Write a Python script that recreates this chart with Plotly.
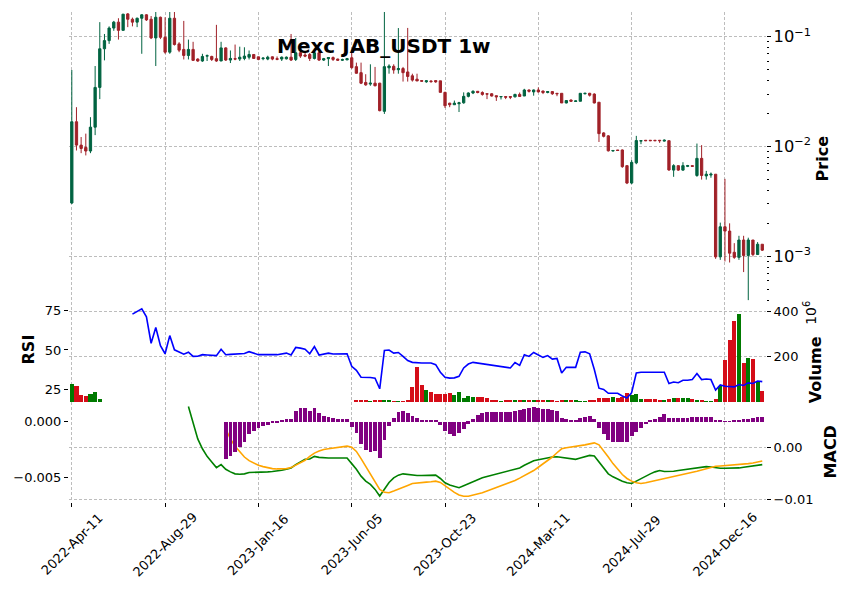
import plotly.graph_objects as go
import pandas as pd

# ---------------- data (weekly candles, index 0 = 2022-04-11) ----------------
opens = [
    0.00306, 0.0168, 0.0103, 0.0098, 0.0091, 0.0150, 0.0345, 0.0775, 0.092, 0.1197,
    0.1355, 0.114, 0.161, 0.144, 0.1355, 0.147, 0.158, 0.144, 0.0973, 0.150,
    0.0986, 0.0722, 0.147, 0.0859, 0.0765, 0.0674, 0.0765, 0.0625, 0.060, 0.0665,
    0.066, 0.063, 0.060, 0.079, 0.0612, 0.063, 0.0625, 0.0633, 0.065, 0.0688,
    0.0655, 0.063, 0.0625, 0.0655, 0.063, 0.0625, 0.0628, 0.065, 0.062, 0.0713,
    0.068, 0.0688, 0.0633, 0.0713, 0.0612, 0.063, 0.0645, 0.0625, 0.061, 0.0615,
    0.0642, 0.0533, 0.047, 0.0383, 0.037, 0.0377, 0.0377, 0.0209, 0.052, 0.0537,
    0.050, 0.0512, 0.0477, 0.044, 0.041, 0.0398, 0.0388, 0.0395, 0.0398, 0.0396,
    0.0311, 0.0248, 0.0240, 0.0245, 0.025, 0.0286, 0.0307, 0.0318, 0.031, 0.0302,
    0.0302, 0.029, 0.0283, 0.0285, 0.0285, 0.0283, 0.0298, 0.0288, 0.0327, 0.0314,
    0.0327, 0.032, 0.0310, 0.0316, 0.0305, 0.0305, 0.0249, 0.0265, 0.0257, 0.0258,
    0.0302, 0.0305, 0.030, 0.0253, 0.0133, 0.0125, 0.0091, 0.0093, 0.0093, 0.0067,
    0.00465, 0.0071, 0.0112, 0.0114, 0.0114, 0.0114, 0.0114, 0.0112, 0.0113, 0.0061,
    0.0067, 0.0061, 0.0066, 0.0067, 0.00545, 0.0078, 0.0054, 0.0055, 0.0056, 0.00099,
    0.00186, 0.0017, 0.00109, 0.00098, 0.00141, 0.00102, 0.00141, 0.00104, 0.00129,
]
highs = [
    0.0497, 0.0228, 0.0122, 0.0131, 0.0185, 0.054, 0.1355, 0.1057, 0.124, 0.139,
    0.147, 0.161, 0.164, 0.149, 0.149, 0.160, 0.160, 0.154, 0.172, 0.152,
    0.150, 0.172, 0.175, 0.089, 0.139, 0.094, 0.0897, 0.0635, 0.0698, 0.0688,
    0.067, 0.128, 0.0897, 0.080, 0.0748, 0.0847, 0.081, 0.080, 0.0748, 0.0688,
    0.0655, 0.065, 0.067, 0.066, 0.066, 0.066, 0.066, 0.1057, 0.0973, 0.074,
    0.071, 0.071, 0.074, 0.074, 0.064, 0.065, 0.066, 0.063, 0.063, 0.064,
    0.074, 0.058, 0.058, 0.0455, 0.056, 0.053, 0.038, 0.171, 0.056, 0.056,
    0.1197, 0.053, 0.12, 0.046, 0.046, 0.040, 0.040, 0.040, 0.040, 0.0396,
    0.0315, 0.0250, 0.0262, 0.0255, 0.0311, 0.0311, 0.0325, 0.0320, 0.0318, 0.0302,
    0.0306, 0.029, 0.0287, 0.0287, 0.0288, 0.0302, 0.0310, 0.0335, 0.0330, 0.0330,
    0.0345, 0.0322, 0.0318, 0.032, 0.0305, 0.0305, 0.0265, 0.0268, 0.0262, 0.0305,
    0.0308, 0.0308, 0.0305, 0.0253, 0.0135, 0.0127, 0.0093, 0.0093, 0.0094, 0.0067,
    0.00753, 0.0125, 0.0113, 0.0114, 0.0114, 0.0114, 0.0114, 0.0116, 0.0113, 0.0069,
    0.0067, 0.0072, 0.0068, 0.0067, 0.01064, 0.0103, 0.0060, 0.0058, 0.0056, 0.00203,
    0.00508, 0.0020, 0.00132, 0.00154, 0.00154, 0.00148, 0.00141, 0.00135, 0.00129,
]
lows = [
    0.0030, 0.0092, 0.0087, 0.0083, 0.0087, 0.0127, 0.027, 0.0608, 0.0859, 0.113,
    0.094, 0.114, 0.122, 0.124, 0.122, 0.0698, 0.139, 0.095, 0.054, 0.095,
    0.0698, 0.0698, 0.083, 0.0722, 0.062, 0.062, 0.060, 0.059, 0.059, 0.060,
    0.060, 0.059, 0.060, 0.060, 0.0575, 0.061, 0.060, 0.061, 0.062, 0.063,
    0.061, 0.061, 0.061, 0.061, 0.061, 0.060, 0.062, 0.060, 0.060, 0.064,
    0.065, 0.060, 0.062, 0.060, 0.060, 0.054, 0.060, 0.060, 0.060, 0.061,
    0.051, 0.046, 0.037, 0.0357, 0.0357, 0.0353, 0.0209, 0.0198, 0.046, 0.046,
    0.046, 0.039, 0.039, 0.039, 0.0395, 0.039, 0.038, 0.038, 0.038, 0.031,
    0.0224, 0.0228, 0.0240, 0.0206, 0.0245, 0.028, 0.030, 0.0305, 0.029, 0.027,
    0.0285, 0.026, 0.0268, 0.027, 0.027, 0.028, 0.0285, 0.0288, 0.031, 0.029,
    0.031, 0.030, 0.0305, 0.0295, 0.0287, 0.0249, 0.0247, 0.0255, 0.0255, 0.0258,
    0.0298, 0.0285, 0.0247, 0.0110, 0.0121, 0.0090, 0.0090, 0.0091, 0.0064, 0.00455,
    0.00455, 0.0069, 0.0105, 0.0112, 0.0112, 0.0112, 0.0108, 0.0111, 0.0060, 0.0053,
    0.0060, 0.0060, 0.0065, 0.0066, 0.0053, 0.0050, 0.0050, 0.0052, 0.00095, 0.00093,
    0.00090, 0.00088, 0.00095, 0.00093, 0.00072, 0.00040, 0.00100, 0.00103, 0.00112,
]
closes = [
    0.0168, 0.0103, 0.0096, 0.0091, 0.0150, 0.0345, 0.0775, 0.092, 0.1197, 0.1355,
    0.114, 0.160, 0.144, 0.1355, 0.147, 0.158, 0.142, 0.0973, 0.150, 0.0986,
    0.0722, 0.147, 0.0847, 0.0753, 0.0674, 0.0765, 0.0608, 0.060, 0.066, 0.067,
    0.062, 0.060, 0.079, 0.0612, 0.0633, 0.0625, 0.065, 0.0665, 0.0688, 0.0633,
    0.062, 0.0637, 0.065, 0.0625, 0.0622, 0.065, 0.065, 0.0612, 0.0713, 0.0665,
    0.0665, 0.0633, 0.0713, 0.0612, 0.063, 0.0645, 0.062, 0.061, 0.0618, 0.063,
    0.0522, 0.0464, 0.0377, 0.0364, 0.0377, 0.0357, 0.0212, 0.0533, 0.054, 0.0497,
    0.0512, 0.047, 0.0434, 0.0402, 0.0395, 0.0393, 0.0396, 0.0390, 0.0388, 0.0311,
    0.0235, 0.0240, 0.0248, 0.025, 0.0286, 0.0307, 0.0318, 0.0310, 0.0298, 0.030,
    0.0288, 0.0283, 0.0285, 0.0281, 0.0281, 0.0298, 0.0285, 0.0327, 0.0318, 0.0327,
    0.0314, 0.0310, 0.0316, 0.0302, 0.0302, 0.0249, 0.0262, 0.0258, 0.026, 0.0305,
    0.0305, 0.0293, 0.0249, 0.0131, 0.01238, 0.00914, 0.0092, 0.0092, 0.00656, 0.00465,
    0.00718, 0.01133, 0.0113, 0.0113, 0.0113, 0.0113, 0.0113, 0.0114, 0.00612, 0.0067,
    0.0061, 0.0067, 0.0067, 0.0066, 0.0078, 0.00545, 0.0056, 0.0056, 0.00099, 0.00186,
    0.0017, 0.00107, 0.00098, 0.00141, 0.00102, 0.00141, 0.00104, 0.00129, 0.00114,
]
# volume in millions
volume_m = [
    77, 72, 30, 26, 35, 43, 12, 0, 0, 0,
    0, 0, 0, 0, 0, 0, 0, 0, 0, 0,
    0, 0, 0, 0, 0, 0, 0, 0, 0, 0,
    0, 0, 0, 0, 0, 0, 0, 0, 0, 0,
    0, 0, 0, 0, 0, 0, 0, 0, 0, 0,
    0, 0, 0, 0, 0, 0, 0, 0, 0, 0,
    0, 7, 7, 7, 4, 7, 7, 7, 7, 3,
    3, 3, 8, 65, 152, 74, 52, 43, 35, 35,
    36, 39, 30, 43, 17, 26, 22, 22, 22, 17,
    9, 9, 4, 8, 8, 10, 10, 8, 8, 5,
    6, 5, 5, 6, 4, 5, 8, 5, 5, 4,
    3, 5, 8, 18, 19, 19, 20, 18, 20, 38,
    32, 35, 12, 12, 14, 12, 10, 10, 14, 16,
    16, 16, 16, 14, 10, 8, 1, 2, 14, 72,
    186, 273, 357, 388, 171, 193, 188, 91, 48,
]
rsi = [
    None, None, None, None, None, None, None, None, None, None,
    None, None, None, 72.9, 74.6, 76.3, 71.2, 54.3, 64.4, 52.7,
    47.6, 59.2, 50.1, 48.6, 47.3, 48.6, 45.9, 46.0, 47.0, 46.8,
    46.6, 46.4, 50.5, 47.0, 47.2, 47.4, 47.6, 47.8, 48.9, 47.8,
    47.0, 47.0, 47.2, 47.0, 47.0, 47.4, 48.0, 46.8, 51.6, 51.2,
    50.5, 47.6, 52.2, 46.8, 47.6, 48.0, 47.4, 47.4, 47.6, 47.6,
    39.6, 37.0, 32.6, 32.6, 32.4, 32.0, 25.2, 49.7, 50.0, 48.0,
    48.4, 45.9, 43.2, 42.1, 41.7, 41.7, 41.7, 41.7, 40.6, 35.8,
    32.6, 32.0, 32.2, 33.2, 38.5, 41.0, 42.1, 41.7, 41.3, 40.9,
    40.5, 40.0, 39.6, 39.2, 38.5, 42.0, 40.2, 47.0, 45.9, 48.4,
    47.0, 45.3, 46.4, 44.2, 44.6, 35.3, 38.9, 38.9, 38.9, 48.6,
    48.8, 47.6, 37.5, 25.6, 24.8, 22.3, 22.3, 22.3, 20.6, 19.3,
    22.7, 35.3, 35.8, 35.8, 35.8, 35.8, 35.8, 35.8, 28.6, 29.5,
    29.1, 30.7, 30.7, 31.1, 34.9, 31.1, 31.5, 31.1, 24.4, 27.7,
    26.8, 26.4, 26.4, 27.9, 27.3, 29.0, 28.6, 30.2, 29.8,
]
# MACD values in units of 1e-3
macd_e3 = [
    None, None, None, None, None, None, None, None, None, None,
    None, None, None, None, None, None, None, None, None, None,
    None, None, None, None, None, 7.8, 4.78, 1.64, -0.25, -1.70,
    -2.77, -3.84, -3.27, -4.15, -4.65, -5.03, -5.09, -5.03, -4.78, -4.78,
    -4.72, -4.72, -4.65, -4.59, -4.53, -4.34, -4.15, -3.90, -3.27, -2.77,
    -2.26, -2.20, -1.70, -1.89, -2.01, -2.01, -2.01, -2.01, -2.01, -2.01,
    -3.08, -4.15, -5.47, -6.42, -7.04, -7.99, -9.25, -7.99, -6.67, -5.79,
    -5.28, -5.03, -5.16, -5.28, -5.35, -5.35, -5.28, -5.28, -5.28, -5.91,
    -6.73, -7.17, -7.48, -7.67, -7.30, -6.92, -6.54, -6.10, -5.79, -5.53,
    -5.28, -5.03, -4.84, -4.59, -4.34, -4.15, -3.90, -3.40, -2.96, -2.52,
    -2.33, -2.14, -1.95, -1.82, -1.76, -1.89, -2.08, -2.20, -2.26, -2.01,
    -1.70, -1.51, -1.64, -2.77, -4.03, -5.03, -5.60, -6.04, -6.42, -6.73,
    -6.86, -6.42, -5.91, -5.47, -5.03, -4.65, -4.40, -4.59, -4.59, -4.53,
    -4.40, -4.28, -4.15, -4.03, -3.90, -3.77, -3.65, -3.71, -3.90, -3.96,
    -3.96, -3.96, -3.96, -3.90, -3.77, -3.65, -3.52, -3.40, -3.27,
]
signal_e3 = [
    None, None, None, None, None, None, None, None, None, None,
    None, None, None, None, None, None, None, None, None, None,
    None, None, None, None, None, None, None, None, None, None,
    None, None, None, 3.52, 1.64, 0.25, -0.88, -1.82, -2.52, -3.02,
    -3.40, -3.65, -3.90, -4.03, -4.09, -4.09, -4.03, -3.84, -3.40, -2.96,
    -2.45, -1.70, -1.07, -0.69, -0.38, -0.25, -0.13, 0.0, 0.13, 0.25,
    0.06, -0.75, -2.14, -3.58, -5.09, -6.67, -7.99, -8.55, -8.62, -8.30,
    -7.99, -7.61, -7.23, -6.86, -6.73, -6.67, -6.60, -6.54, -6.42, -6.67,
    -7.30, -7.99, -8.55, -9.06, -9.31, -9.31, -9.12, -8.87, -8.62, -8.30,
    -7.99, -7.67, -7.36, -6.98, -6.67, -6.29, -5.85, -5.41, -4.91, -4.40,
    -3.77, -3.14, -2.52, -1.82, -1.01, -0.25, -0.06, 0.06, 0.13, 0.25,
    0.50, 0.69, 0.88, 0.50, -0.57, -1.82, -3.08, -4.15, -5.16, -5.91,
    -6.42, -6.73, -6.86, -6.73, -6.54, -6.35, -6.16, -5.97, -5.72, -5.53,
    -5.35, -5.16, -4.97, -4.78, -4.53, -4.28, -4.03, -3.77, -3.58, -3.52,
    -3.46, -3.40, -3.33, -3.27, -3.21, -3.08, -2.96, -2.77, -2.58,
]
hist_e3 = [
    None, None, None, None, None, None, None, None, None, None,
    None, None, None, None, None, None, None, None, None, None,
    None, None, None, None, None, None, None, None, None, None,
    None, None, None, -3.33, -3.10, -2.68, -2.29, -1.85, -1.10, -0.80,
    -0.60, -0.36, -0.24, -0.12, -0.06, 0.12, 0.24, 0.24, 0.98, 1.22,
    1.25, 0.98, 1.22, 0.77, 0.54, 0.45, 0.39, 0.24, 0.24, 0.24,
    -0.42, -1.04, -2.02, -2.50, -2.68, -2.59, -3.27, -1.61, -0.36, 0.33,
    0.89, 0.98, 0.83, 0.54, 0.33, 0.21, 0.21, 0.21, 0.21, -0.24,
    -0.80, -1.13, -1.25, -1.04, -0.65, -0.15, 0.30, 0.60, 0.77, 0.89,
    0.89, 0.89, 0.89, 0.89, 0.92, 0.98, 1.04, 1.13, 1.22, 1.31,
    1.28, 1.19, 1.13, 1.07, 0.98, 0.39, 0.24, 0.18, 0.18, 0.36,
    0.42, 0.54, 0.24, -0.60, -1.10, -1.64, -1.79, -1.85, -1.85, -1.85,
    -1.31, -0.95, -0.51, -0.21, 0.09, 0.30, 0.48, 0.68, 0.39, 0.33,
    0.33, 0.36, 0.33, 0.48, 0.48, 0.48, 0.48, 0.48, 0.18, 0.09,
    0.06, 0.06, 0.09, 0.15, 0.24, 0.30, 0.39, 0.42, 0.42,
]
start_date = "2022-04-11"
tick_every = 20
title_text = "Mexc JAB_USDT 1w"

# ---------------- derived ----------------
n = len(opens)
idx = list(range(n))
dates = pd.date_range(start_date, periods=n, freq="7D")
tick_idx = idx[::tick_every]
tick_labels = [dates[k].strftime("%Y-%b-%d") for k in tick_idx]
E3 = 1e-3
macd = [None if v is None else v * E3 for v in macd_e3]
signal = [None if v is None else v * E3 for v in signal_e3]
hist = [None if v is None else v * E3 for v in hist_e3]
vol_colors = ["#007a00" if c > o else "#d50d18" for o, c in zip(opens, closes)]

W, H = 850, 599
def fx(px):
    return px / W
def fy(py):
    return (H - py) / H

X0, X1 = 69, 766
MAIN = (12, 305)
P1 = (305, 406)
P2 = (406, 507)
XR = [-0.6, n - 0.2]

FONT = "DejaVu Sans"
GRID = dict(showgrid=True, gridcolor="#bdbdbd", gridwidth=0.8, griddash="3px,2px")

fig = go.Figure()

fig.add_trace(go.Candlestick(
    x=idx, open=opens, high=highs, low=lows, close=closes,
    increasing=dict(line=dict(color="#006340", width=1), fillcolor="#006340"),
    decreasing=dict(line=dict(color="#A02128", width=1), fillcolor="#A02128"),
    whiskerwidth=0, xaxis="x", yaxis="y", showlegend=False, hoverinfo="skip",
))
fig.add_trace(go.Bar(
    x=idx, y=volume_m, marker=dict(color=vol_colors, line=dict(width=0)),
    width=0.9, xaxis="x2", yaxis="y2", showlegend=False,
))
fig.add_trace(go.Scatter(
    x=idx, y=rsi, mode="lines", line=dict(color="#0000ff", width=1.6),
    xaxis="x2", yaxis="y3", showlegend=False,
))
fig.add_trace(go.Scatter(
    x=idx, y=macd, mode="lines", line=dict(color="#008000", width=1.6),
    xaxis="x3", yaxis="y4", showlegend=False,
))
fig.add_trace(go.Scatter(
    x=idx, y=signal, mode="lines", line=dict(color="#ffa500", width=1.6),
    xaxis="x3", yaxis="y4", showlegend=False,
))
fig.add_trace(go.Bar(
    x=idx, y=hist, marker=dict(color="#800080", line=dict(width=0)),
    width=0.8, xaxis="x3", yaxis="y5", showlegend=False,
))

xcommon = dict(domain=[fx(X0), fx(X1)], range=XR, tickvals=tick_idx,
               zeroline=False, showline=False, showticklabels=False, **GRID)
tickfont = dict(family=FONT, size=13, color="black")

fig.update_layout(
    width=W, height=H, margin=dict(l=0, r=0, t=0, b=0),
    paper_bgcolor="white", plot_bgcolor="white",
    font=dict(family=FONT, size=13, color="black"),
    bargap=0, barmode="overlay",
    xaxis=dict(anchor="y", ticks="", rangeslider=dict(visible=False), **xcommon),
    xaxis2=dict(anchor="y2", matches="x", ticks="", **xcommon),
    xaxis3=dict(anchor="y4", matches="x", ticks="outside", ticklen=4, tickcolor="black", **xcommon),
    yaxis=dict(domain=[fy(MAIN[1]), fy(MAIN[0])], anchor="x", side="right", type="log",
               range=[-3.4144, -0.7748], dtick=1, exponentformat="power",
               ticks="outside", ticklen=4, tickcolor="black", tickfont=tickfont,
               minor=dict(ticks="outside", ticklen=2, tickcolor="black", dtick="D1", showgrid=False),
               zeroline=False, showline=False, **GRID),
    yaxis2=dict(domain=[fy(P1[1]), fy(P1[0])], anchor="x2", side="right",
                range=[0, 440], tickvals=[200, 400], ticks="outside", ticklen=4,
                tickcolor="black", tickfont=tickfont, zeroline=False, showline=False, **GRID),
    yaxis3=dict(overlaying="y2", anchor="x2", side="left", range=[16.8, 80.7],
                tickvals=[25, 50, 75], ticks="outside", ticklen=4, tickcolor="black",
                tickfont=tickfont, showgrid=False, zeroline=False, showline=False),
    yaxis4=dict(domain=[fy(P2[1]), fy(P2[0])], anchor="x3", side="right",
                range=[-0.01038, 0.00868], tickvals=[-0.01, 0.0], ticktext=["\u22120.01", "0.00"],
                ticks="outside", ticklen=4, tickcolor="black", tickfont=tickfont,
                zeroline=False, showline=False, **GRID),
    yaxis5=dict(overlaying="y4", anchor="x3", side="left", range=[-0.00723, 0.00179],
                tickvals=[-0.005, 0.0], ticktext=["\u22120.005", "0.000"],
                ticks="outside", ticklen=4, tickcolor="black", tickfont=tickfont,
                showgrid=False, zeroline=False, showline=False),
)

ann = []
# rotated date labels, centred on their ticks (matplotlib style)
for k, lab in zip(tick_idx, tick_labels):
    ann.append(dict(x=k, xref="x3", y=fy(550), yref="paper", text=lab, showarrow=False,
                    textangle=-45, xanchor="center", yanchor="middle",
                    font=dict(family=FONT, size=13, color="black")))
ann.append(dict(x=fx(384), y=fy(46), xref="paper", yref="paper", text="<b>" + title_text + "</b>",
                showarrow=False, xanchor="center", yanchor="middle",
                font=dict(family=FONT, size=20, color="black")))
def side_title(text, px, py, size=16):
    return dict(x=fx(px), y=fy(py), xref="paper", yref="paper", text=text, showarrow=False,
                textangle=-90, xanchor="center", yanchor="middle",
                font=dict(family=FONT, size=size, color="black"))
ann.append(side_title("<b>Price</b>", 822, 160))
ann.append(side_title("<b>Volume</b>", 815, 374))
ann.append(side_title("10<sup>6</sup>", 810, 316, 14))
ann.append(side_title("<b>MACD</b>", 830, 457))
ann.append(side_title("<b>RSI</b>", 28, 353))
fig.update_layout(annotations=ann)

fig.write_html("out.html")
